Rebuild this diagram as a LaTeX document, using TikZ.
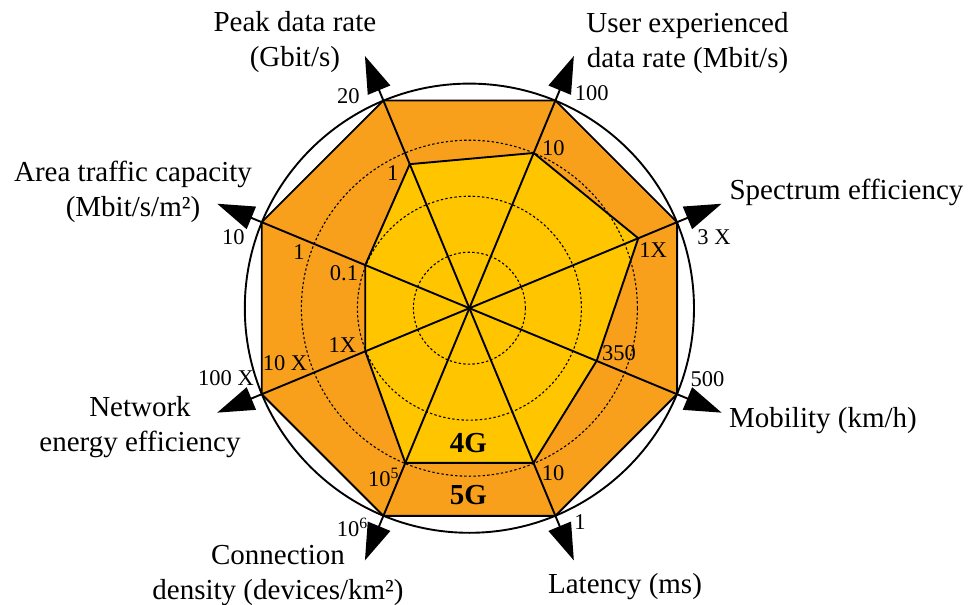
\documentclass[tikz,border=0pt]{standalone}
\usepackage{fontspec}
\setmainfont{Liberation Serif}
\usetikzlibrary{arrows.meta}
\definecolor{ring5g}{RGB}{248,160,28}
\definecolor{ring4g}{RGB}{255,198,0}

\begin{document}
\begin{tikzpicture}[x=1pt,y=1pt,
  axisline/.style={line width=1.9pt, -{Triangle[length=37pt,width=24pt]}},
  edge/.style={line width=1.9pt, line join=miter},
  gridring/.style={line width=1.1pt, dash pattern=on 2.4pt off 2.2pt},
  title/.style={font=\fontsize{29}{35}\selectfont, align=center, inner sep=0pt},
  val/.style={font=\fontsize{22.5}{27}\selectfont, inner sep=0pt},
  gen/.style={font=\fontsize{29}{35}\selectfont\bfseries, inner sep=0pt}]

\useasboundingbox (-469.4,-296.8) rectangle (502.6,308.2);
\coordinate (c) at (0,0);

% octagon corners and axis tips
\foreach \i/\a in {1/112.5,2/67.5,3/22.5,4/-22.5,5/-67.5,6/-112.5,7/-157.5,8/157.5}{
  \coordinate (o\i) at (\a:224.8pt);
  \coordinate (t\i) at (\a:273pt);
}
% 4G values on each axis
\foreach \i/\a/\r in {1/112.5/155.9, 2/67.5/168, 3/22.5/182.8, 4/-22.5/137.7,
                      5/-67.5/167.5, 6/-112.5/167.5, 7/-157.5/112.7, 8/157.5/112.7}{
  \coordinate (g\i) at (\a:\r pt);
}

% 5G and 4G areas
\filldraw[edge, fill=ring5g] (o1) -- (o2) -- (o3) -- (o4) -- (o5) -- (o6) -- (o7) -- (o8) -- cycle;
\filldraw[edge, fill=ring4g] (g1) -- (g2) -- (g3) -- (g4) -- (g5) -- (g6) -- (g7) -- (g8) -- cycle;

% dotted scale rings
\foreach \r in {56,112,168} \draw[gridring] (c) circle[radius=\r pt];

% axes
\foreach \i in {1,...,8} \draw[axisline] (c) -- (t\i);

% outer ring
\draw[line width=1.9pt] (c) circle[radius=224.6pt];

% axis titles
\node[title] (tpeak) at (-174.5,265.7) {Peak data rate\\(Gbit/s)};
\node[title] (tuser) at (218.1,265.2) {User experienced\\data rate (Mbit/s)};
\node[title] (tspec) at (377.1,116.0) {Spectrum efficiency};
\node[title] (tmob) at (353.6,-112.6) {Mobility (km/h)};
\node[title] (tlat) at (155.6,-278.0) {Latency (ms)};
\node[title] (tconn) at (-191.4,-267.3) {Connection\\density (devices/km²)};
\node[title] (tnet) at (-329.4,-119.3) {Network\\energy efficiency};
\node[title] (tarea) at (-336.4,116.2) {Area traffic capacity\\(Mbit/s/m²)};

% scale values
\node[val] (vpeak5) at (-121.1,212.2) {20};
\node[val] (vpeak4) at (-76.7,134.9) {1};
\node[val] (vuser5) at (122.3,214.9) {100};
\node[val] (vuser4) at (83.9,159.9) {10};
\node[val] (vspec5) at (244.6,71.5) {3 X};
\node[val] (vspec4) at (183.6,58.2) {1X};
\node[val] (vmob5) at (238.1,-70.8) {500};
\node[val] (vmob4) at (149.6,-45.1) {350};
\node[val] (vlat5) at (110.6,-213.5) {1};
\node[val] (vlat4) at (83.6,-164.5) {10};
\node[val, anchor=base west] (vconn5) at (-132.7,-227.8) {10\textsuperscript{6}};
\node[val, anchor=base west] (vconn4) at (-101.4,-177.8) {10\textsuperscript{5}};
\node[val] (vnet5) at (-243.4,-70.1) {100 X};
\node[val] (vnet4) at (-184.4,-55.1) {10 X};
\node[val] (vnet3) at (-126.9,-36.8) {1X};
\node[val] (varea5) at (-236.1,71.5) {10};
\node[val] (varea4) at (-170.4,56.5) {1};
\node[val] (varea3) at (-125.4,34.9) {0.1};

% generation labels
\node[gen] (l4g) at (-0.9,-135.1) {4G};
\node[gen] (l5g) at (-0.9,-186.8) {5G};
\end{tikzpicture}
\end{document}
